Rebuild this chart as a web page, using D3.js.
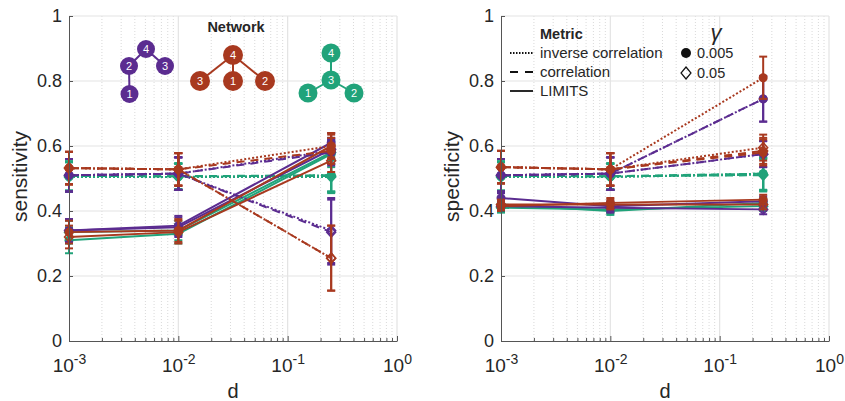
<!DOCTYPE html>
<html>
<head>
<meta charset="utf-8">
<script src="https://cdn.jsdelivr.net/npm/d3@7"></script>
<style>
  body { margin: 0; background: #fff; }
  text { font-family: "Liberation Sans", Arial, Helvetica, sans-serif; fill: #262626; }
</style>
</head>
<body>
<div id="chart"></div>
<script>
// x values (d) and axis ticks
var dValues = [0.001, 0.01, 0.25];
var xTicks = [1e-3, 1e-2, 1e-1, 1];
var xTickExp = ['-3', '-2', '-1', '0'];
var yTicks = [0, 0.2, 0.4, 0.6, 0.8, 1];

// categories
var networks = ['net1', 'net2', 'net3'];
var netColors = ['#5b2c90', '#a8391f', '#21a37a'];
var metrics = ['inverse correlation', 'correlation', 'LIMITS'];
var metricDash = ['2,2', '8,6', null];
var gammas = ['0.005', '0.05'];

// sensitivity: net index, metric index, gamma index, values at dValues, error half-widths
var sensitivity = [
  {net: 2, metric: 0, gamma: 0, v: [0.505, 0.505, 0.510], e: [0.045, 0.040, 0.050]},
  {net: 2, metric: 0, gamma: 1, v: [0.505, 0.505, 0.505], e: [0.045, 0.040, 0.050]},
  {net: 2, metric: 1, gamma: 0, v: [0.508, 0.507, 0.510], e: [0.045, 0.040, 0.050]},
  {net: 2, metric: 1, gamma: 1, v: [0.508, 0.507, 0.508], e: [0.045, 0.040, 0.050]},
  {net: 2, metric: 2, gamma: 0, v: [0.310, 0.330, 0.575], e: [0.040, 0.030, 0.040]},
  {net: 2, metric: 2, gamma: 1, v: [0.335, 0.340, 0.580], e: [0.035, 0.030, 0.035]},
  {net: 0, metric: 0, gamma: 0, v: [0.510, 0.515, 0.585], e: [0.050, 0.050, 0.040]},
  {net: 0, metric: 0, gamma: 1, v: [0.510, 0.515, 0.340], e: [0.050, 0.050, 0.100]},
  {net: 0, metric: 1, gamma: 0, v: [0.510, 0.515, 0.580], e: [0.050, 0.050, 0.040]},
  {net: 0, metric: 1, gamma: 1, v: [0.510, 0.515, 0.335], e: [0.050, 0.050, 0.100]},
  {net: 0, metric: 2, gamma: 0, v: [0.340, 0.355, 0.610], e: [0.035, 0.030, 0.030]},
  {net: 0, metric: 2, gamma: 1, v: [0.340, 0.350, 0.590], e: [0.035, 0.030, 0.030]},
  {net: 1, metric: 0, gamma: 0, v: [0.532, 0.528, 0.600], e: [0.050, 0.050, 0.040]},
  {net: 1, metric: 0, gamma: 1, v: [0.532, 0.528, 0.255], e: [0.050, 0.050, 0.100]},
  {net: 1, metric: 1, gamma: 0, v: [0.532, 0.528, 0.585], e: [0.050, 0.050, 0.040]},
  {net: 1, metric: 1, gamma: 1, v: [0.532, 0.528, 0.255], e: [0.050, 0.050, 0.100]},
  {net: 1, metric: 2, gamma: 0, v: [0.335, 0.340, 0.600], e: [0.035, 0.035, 0.035]},
  {net: 1, metric: 2, gamma: 1, v: [0.320, 0.335, 0.555], e: [0.035, 0.035, 0.035]}
];

// specificity
var specificity = [
  {net: 2, metric: 0, gamma: 0, v: [0.505, 0.505, 0.515], e: [0.045, 0.040, 0.050]},
  {net: 2, metric: 0, gamma: 1, v: [0.505, 0.505, 0.512], e: [0.045, 0.040, 0.050]},
  {net: 2, metric: 1, gamma: 0, v: [0.508, 0.507, 0.515], e: [0.045, 0.040, 0.050]},
  {net: 2, metric: 1, gamma: 1, v: [0.508, 0.507, 0.510], e: [0.045, 0.040, 0.050]},
  {net: 2, metric: 2, gamma: 0, v: [0.420, 0.400, 0.425], e: [0.015, 0.012, 0.015]},
  {net: 2, metric: 2, gamma: 1, v: [0.410, 0.405, 0.415], e: [0.015, 0.012, 0.015]},
  {net: 0, metric: 0, gamma: 0, v: [0.510, 0.515, 0.745], e: [0.050, 0.050, 0.070]},
  {net: 0, metric: 0, gamma: 1, v: [0.510, 0.515, 0.575], e: [0.050, 0.050, 0.040]},
  {net: 0, metric: 1, gamma: 0, v: [0.510, 0.515, 0.745], e: [0.050, 0.050, 0.070]},
  {net: 0, metric: 1, gamma: 1, v: [0.510, 0.515, 0.575], e: [0.050, 0.050, 0.040]},
  {net: 0, metric: 2, gamma: 0, v: [0.440, 0.415, 0.430], e: [0.015, 0.015, 0.015]},
  {net: 0, metric: 2, gamma: 1, v: [0.415, 0.410, 0.405], e: [0.015, 0.015, 0.015]},
  {net: 1, metric: 0, gamma: 0, v: [0.535, 0.528, 0.810], e: [0.050, 0.050, 0.065]},
  {net: 1, metric: 0, gamma: 1, v: [0.535, 0.528, 0.595], e: [0.050, 0.050, 0.040]},
  {net: 1, metric: 1, gamma: 0, v: [0.535, 0.528, 0.580], e: [0.050, 0.050, 0.040]},
  {net: 1, metric: 1, gamma: 1, v: [0.535, 0.528, 0.585], e: [0.050, 0.050, 0.040]},
  {net: 1, metric: 2, gamma: 0, v: [0.415, 0.425, 0.435], e: [0.015, 0.015, 0.015]},
  {net: 1, metric: 2, gamma: 1, v: [0.420, 0.420, 0.420], e: [0.015, 0.015, 0.015]}
];

var width = 845, height = 401;
var pw = 328, ph = 325, top0 = 16;

var svg = d3.select('#chart').append('svg')
    .attr('width', width)
    .attr('height', height);

var x = d3.scaleLog().domain([1e-3, 1]).range([0, pw]),
    y = d3.scaleLinear().domain([0, 1]).range([ph, 0]);

// minor ticks for the log axis
var minorTicks = [];
[1e-3, 1e-2, 1e-1].forEach(function(dec) {
  for (var k = 2; k <= 9; k++) minorTicks.push(k * dec);
});

var panels = [
  {label: 'sensitivity', data: sensitivity, left: 69},
  {label: 'specificity', data: specificity, left: 501}
];

var line = d3.line()
  .x(function(d) { return x(d.d); })
  .y(function(d) { return y(d.v); });

var drawOrder = [2, 0, 1];

panels.forEach(function(p) {
  var g = svg.append('g').attr('transform', 'translate(' + p.left + ',' + top0 + ')');

  // grid
  g.selectAll('.minor').data(minorTicks).enter().append('line')
    .attr('x1', function(d) { return x(d); }).attr('x2', function(d) { return x(d); })
    .attr('y1', 0).attr('y2', ph)
    .attr('stroke', '#cfcfcf').attr('stroke-width', 0.8).attr('stroke-dasharray', '1,2');
  g.selectAll('.vmajor').data(xTicks.slice(1)).enter().append('line')
    .attr('x1', function(d) { return x(d); }).attr('x2', function(d) { return x(d); })
    .attr('y1', 0).attr('y2', ph)
    .attr('stroke', '#e3e3e3').attr('stroke-width', 1.2);
  g.selectAll('.hmajor').data(yTicks.slice(1)).enter().append('line')
    .attr('x1', 0).attr('x2', pw)
    .attr('y1', function(d) { return y(d); }).attr('y2', function(d) { return y(d); })
    .attr('stroke', '#e3e3e3').attr('stroke-width', 1.2);

  // series, sorted so red draws last
  var series = p.data.slice().sort(function(a, b) {
    return drawOrder.indexOf(a.net) - drawOrder.indexOf(b.net);
  });

  series.forEach(function(s) {
    var col = netColors[s.net];
    var pts = dValues.map(function(d, i) { return {d: d, v: s.v[i], e: s.e[i]}; });
    var sg = g.append('g');

    sg.append('path')
      .datum(pts)
      .attr('d', line)
      .attr('fill', 'none')
      .attr('stroke', col)
      .attr('stroke-width', 2)
      .attr('stroke-dasharray', metricDash[s.metric]);

    // error bars
    var eb = sg.selectAll('.eb').data(pts).enter().append('g');
    eb.append('line')
      .attr('x1', function(d) { return x(d.d); }).attr('x2', function(d) { return x(d.d); })
      .attr('y1', function(d) { return y(d.v - d.e); }).attr('y2', function(d) { return y(d.v + d.e); })
      .attr('stroke', col).attr('stroke-width', 2);
    [-1, 1].forEach(function(sign) {
      eb.append('line')
        .attr('x1', function(d) { return x(d.d) - 4; }).attr('x2', function(d) { return x(d.d) + 4; })
        .attr('y1', function(d) { return y(d.v + sign * d.e); }).attr('y2', function(d) { return y(d.v + sign * d.e); })
        .attr('stroke', col).attr('stroke-width', 2);
    });

    // markers
    if (s.gamma === 0) {
      sg.selectAll('.m').data(pts).enter().append('circle')
        .attr('cx', function(d) { return x(d.d); })
        .attr('cy', function(d) { return y(d.v); })
        .attr('r', 4.5)
        .attr('fill', col);
    } else {
      sg.selectAll('.m').data(pts).enter().append('path')
        .attr('transform', function(d) { return 'translate(' + x(d.d) + ',' + y(d.v) + ')'; })
        .attr('d', 'M0,-5L4.5,0L0,5L-4.5,0Z')
        .attr('fill', 'none')
        .attr('stroke', col)
        .attr('stroke-width', 1.5);
    }
  });

  // axes
  var yAxis = g.append('g')
    .call(d3.axisLeft(y).tickValues(yTicks).tickSize(-4).tickSizeOuter(0).tickPadding(7)
      .tickFormat(d3.format('~g')));
  yAxis.selectAll('text').attr('font-size', 18).attr('font-family', null).attr('fill', '#262626');

  var xAxis = g.append('g')
    .attr('transform', 'translate(0,' + ph + ')')
    .call(d3.axisBottom(x).tickValues(xTicks).tickSize(-5).tickSizeOuter(0).tickFormat(''));
  xAxis.append('g').call(d3.axisBottom(x).tickValues(minorTicks).tickSize(-3).tickFormat(''))
    .select('.domain').remove();
  xAxis.selectAll('.tick').filter(function(d) { return xTicks.indexOf(d) >= 0; })
    .append('text')
    .attr('y', 31)
    .attr('text-anchor', 'middle')
    .attr('font-size', 19)
    .attr('fill', '#262626')
    .each(function(d) {
      var t = d3.select(this);
      t.append('tspan').text('10');
      t.append('tspan').attr('dy', -8).attr('font-size', 14).text(xTickExp[xTicks.indexOf(d)]);
    });

  svg.selectAll('.domain').attr('stroke', '#555');
  svg.selectAll('.tick line').attr('stroke', '#555');

  g.append('text')
    .attr('x', pw / 2)
    .attr('y', ph + 57)
    .attr('text-anchor', 'middle')
    .attr('font-size', 20)
    .text('d');

  g.append('text')
    .attr('transform', 'translate(' + (-42) + ',' + (ph / 2 - 2) + ') rotate(-90)')
    .attr('text-anchor', 'middle')
    .attr('font-size', 21)
    .text(p.label);
});

// network legend (left panel)
var netIcons = [
  {net: 0, r: 9, nodes: [[4, 146, 49], [2, 129, 66], [3, 165, 66], [1, 129.5, 94]], edges: [[4, 2], [4, 3], [2, 1]]},
  {net: 1, r: 10, nodes: [[4, 233, 55], [3, 200, 81], [1, 233, 81], [2, 265, 81]], edges: [[4, 3], [4, 1], [4, 2]]},
  {net: 2, r: 9.5, nodes: [[4, 331, 53], [3, 331, 80], [1, 308, 93], [2, 354, 93]], edges: [[4, 3], [3, 1], [3, 2]]}
];

svg.append('text')
  .attr('x', 236).attr('y', 32)
  .attr('text-anchor', 'middle')
  .attr('font-size', 14.5).attr('font-weight', 'bold')
  .text('Network');

netIcons.forEach(function(ic) {
  var col = netColors[ic.net];
  var pos = {};
  ic.nodes.forEach(function(n) { pos[n[0]] = n; });
  var ig = svg.append('g');
  ig.selectAll('line').data(ic.edges).enter().append('line')
    .attr('x1', function(e) { return pos[e[0]][1]; }).attr('y1', function(e) { return pos[e[0]][2]; })
    .attr('x2', function(e) { return pos[e[1]][1]; }).attr('y2', function(e) { return pos[e[1]][2]; })
    .attr('stroke', col).attr('stroke-width', 2);
  ig.selectAll('circle').data(ic.nodes).enter().append('circle')
    .attr('cx', function(n) { return n[1]; }).attr('cy', function(n) { return n[2]; })
    .attr('r', ic.r).attr('fill', col);
  ig.selectAll('text').data(ic.nodes).enter().append('text')
    .attr('x', function(n) { return n[1]; }).attr('y', function(n) { return n[2]; })
    .attr('dy', '0.36em')
    .attr('text-anchor', 'middle')
    .attr('font-size', 11)
    .style('fill', '#fff')
    .text(function(n) { return n[0]; });
});

// metric legend (right panel)
var lg = svg.append('g').attr('transform', 'translate(510,0)');
lg.append('text').attr('x', 30).attr('y', 39)
  .attr('font-size', 14.5).attr('font-weight', 'bold').text('Metric');
metrics.forEach(function(m, i) {
  var yy = 53 + i * 19;
  lg.append('line')
    .attr('x1', 0).attr('x2', 23).attr('y1', yy).attr('y2', yy)
    .attr('stroke', '#111').attr('stroke-width', 1.8)
    .attr('stroke-dasharray', i === 0 ? '1.5,1.5' : (i === 1 ? '8,7' : null));
  lg.append('text').attr('x', 30).attr('y', yy + 5)
    .attr('font-size', 15).text(m);
});

// gamma legend
var gg = svg.append('g').attr('transform', 'translate(686,0)');
gg.append('text').attr('x', 30).attr('y', 40)
  .attr('text-anchor', 'middle')
  .attr('font-size', 22).attr('font-style', 'italic')
  .attr('font-family', '"Liberation Serif", serif')
  .text('γ');
gammas.forEach(function(gm, i) {
  var yy = 53 + i * 20;
  if (i === 0) {
    gg.append('circle').attr('cx', 0).attr('cy', yy).attr('r', 5).attr('fill', '#111');
  } else {
    gg.append('path').attr('transform', 'translate(0,' + yy + ')')
      .attr('d', 'M0,-6L5,0L0,6L-5,0Z')
      .attr('fill', 'none').attr('stroke', '#111').attr('stroke-width', 1.2);
  }
  gg.append('text').attr('x', 11).attr('y', yy + 5)
    .attr('font-size', 14.5).text(gm);
});
</script>
</body>
</html>
